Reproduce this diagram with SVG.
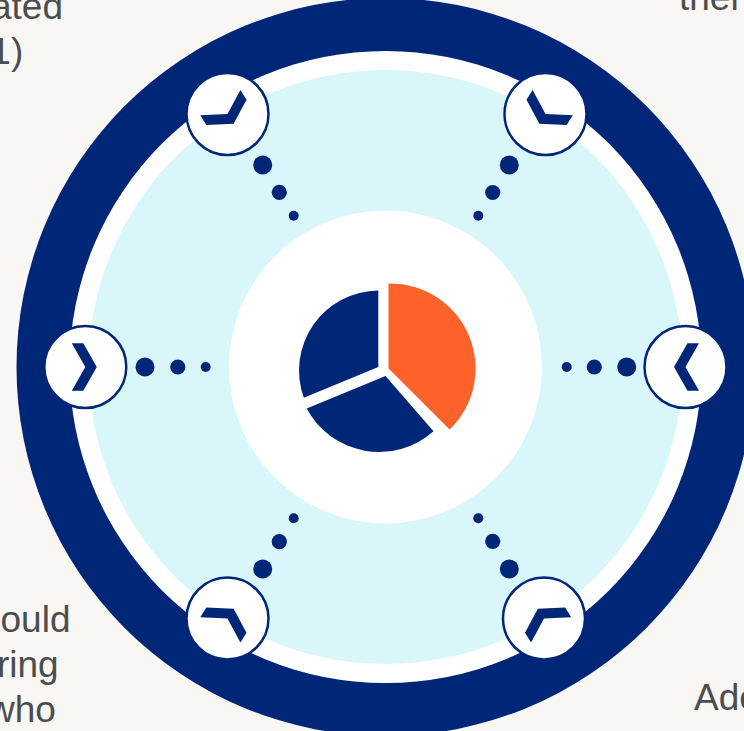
<svg xmlns="http://www.w3.org/2000/svg" width="744" height="731" viewBox="0 0 744 731">
  <style>
    .bg { fill: #F8F7F3; }
    .rim { fill: #002677; }
    .band { fill: #FFFFFF; }
    .field { fill: #D9F6FA; }
    .hub { fill: #FFFFFF; }
    .badge { fill: #FFFFFF; stroke: #002677; stroke-width: 2.5; }
    .glyph { fill: #002677; }
    .dot { fill: #002677; }
    .navy { fill: #002677; }
    .accent { fill: #FF612B; }
    .note { font-family: "Liberation Sans", Arial, sans-serif; font-size: 37px; fill: #4B4D4F; }
  </style>
  <defs>
    <!-- chevron pointing along +x, centred on the badge origin -->
    <path id="chevron" d="M-13.5,-23.7 L-2,-23.7 L11.5,0 L-2,23.7 L-13.5,23.7 L0,0 Z"/>
  </defs>

  <rect class="bg" x="0" y="0" width="744" height="731"/>

  <!-- concentric wheel: navy rim, white band, light field -->
  <g id="wheel">
    <circle class="rim" cx="385.5" cy="367" r="369"/>
    <circle class="band" cx="385.5" cy="367" r="316"/>
    <circle class="field" cx="385.5" cy="367" r="297"/>
  </g>

  <!-- dotted spokes from the badges toward the hub -->
  <g id="connectors">
    <circle class="dot" cx="145" cy="367" r="9.5"/>
    <circle class="dot" cx="177.8" cy="367" r="7.6"/>
    <circle class="dot" cx="205.7" cy="367" r="5"/>

    <circle class="dot" cx="626.7" cy="367" r="9.5"/>
    <circle class="dot" cx="594.3" cy="367" r="7.6"/>
    <circle class="dot" cx="566.7" cy="367" r="5"/>

    <circle class="dot" cx="262.7" cy="165" r="9.5"/>
    <circle class="dot" cx="279.3" cy="192.3" r="7.6"/>
    <circle class="dot" cx="293.7" cy="215.7" r="5"/>

    <circle class="dot" cx="509.3" cy="165" r="9.5"/>
    <circle class="dot" cx="492.7" cy="192.5" r="7.6"/>
    <circle class="dot" cx="478.3" cy="215.7" r="5"/>

    <circle class="dot" cx="262.7" cy="569" r="9.5"/>
    <circle class="dot" cx="279.3" cy="541.7" r="7.6"/>
    <circle class="dot" cx="293.7" cy="518.3" r="5"/>

    <circle class="dot" cx="509.3" cy="569" r="9.5"/>
    <circle class="dot" cx="492.7" cy="541.3" r="7.6"/>
    <circle class="dot" cx="478.3" cy="518.3" r="5"/>
  </g>

  <!-- hub with pie chart -->
  <g id="hub">
    <circle class="hub" cx="385.5" cy="367" r="156.5"/>
    <path class="accent" d="M388.5,368.5 V283.5 A85 85 0 0 1 449.6,429.6 Z"/>
    <path class="navy" d="M378.3,367 V290.5 A80 80 0 0 0 303.8,397.7 Z"/>
    <path class="navy" d="M385.5,376 L306.7,408.5 A82 82 0 0 0 433.5,431.3 Z"/>
  </g>

  <!-- six badges around the wheel, each chevron aimed at the hub -->
  <g id="badge-top-left" transform="translate(227.5,114)">
    <circle class="badge" r="41"/>
    <use href="#chevron" class="glyph" transform="rotate(57.9)"/>
  </g>
  <g id="badge-top-right" transform="translate(545.5,114)">
    <circle class="badge" r="41"/>
    <use href="#chevron" class="glyph" transform="rotate(122.1)"/>
  </g>
  <g id="badge-left" transform="translate(85.3,367)">
    <circle class="badge" r="41"/>
    <use href="#chevron" class="glyph"/>
  </g>
  <g id="badge-right" transform="translate(685.5,367)">
    <circle class="badge" r="41"/>
    <use href="#chevron" class="glyph" transform="rotate(180)"/>
  </g>
  <g id="badge-bottom-left" transform="translate(227.5,618.5)">
    <circle class="badge" r="41"/>
    <use href="#chevron" class="glyph" transform="rotate(-57.9)"/>
  </g>
  <g id="badge-bottom-right" transform="translate(544,618.5)">
    <circle class="badge" r="41"/>
    <use href="#chevron" class="glyph" transform="rotate(-122.1)"/>
  </g>

  <!-- surrounding caption fragments -->
  <g id="captions">
    <text class="note" x="-9" y="18.5">ated</text>
    <text class="note" x="-9.7" y="64">1)</text>
    <text class="note" x="679" y="10">ther</text>
    <text class="note" x="0.5" y="632">ould</text>
    <text class="note" x="-3" y="677">ring</text>
    <text class="note" x="-12" y="722">who</text>
    <text class="note" x="694" y="710">Ade</text>
  </g>
</svg>
